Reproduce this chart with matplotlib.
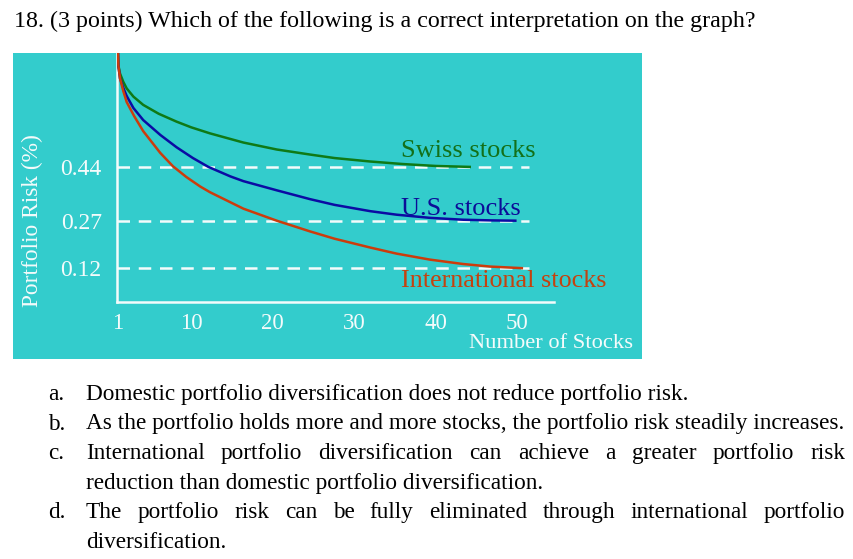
import matplotlib
matplotlib.use("Agg")
import matplotlib.pyplot as plt
from matplotlib.patches import Rectangle

# === dados ===
n_swiss = [1, 1.04, 1.25, 1.65, 2.07, 2.9, 4.1, 6, 8.2, 10, 12.3, 16.4, 20.5,
           24.6, 27.6, 32, 36, 40, 44.2]
risk_swiss = [0.80, 0.762, 0.735, 0.709, 0.688, 0.662, 0.636, 0.608, 0.583, 0.565,
              0.546, 0.517, 0.495, 0.479, 0.468, 0.457, 0.449, 0.443, 0.44]

n_us = [1, 1.05, 1.25, 1.65, 2.07, 2.9, 4.1, 6.2, 8.2, 10.2, 12.1, 14.8, 16.4,
        20.5, 24.6, 27.6, 32, 35.2, 39.3, 43.4, 46.7, 49.8]
risk_us = [0.80, 0.76, 0.72, 0.69, 0.664, 0.626, 0.588, 0.541, 0.502, 0.468, 0.44,
           0.41, 0.395, 0.366, 0.338, 0.32, 0.30, 0.289, 0.279, 0.273, 0.271, 0.27]

n_intl = [1, 1.05, 1.25, 1.65, 2.07, 3, 4.1, 6.2, 7.75, 9.4, 11.1, 12.3, 16.4,
          20.5, 24.6, 27.6, 32, 35.2, 39.3, 43.4, 46.7, 50.6]
risk_intl = [0.80, 0.76, 0.72, 0.68, 0.645, 0.60, 0.553, 0.484, 0.442, 0.408, 0.378,
             0.36, 0.308, 0.27, 0.236, 0.213, 0.185, 0.166, 0.147, 0.133, 0.125, 0.12]

risk_levels = [0.44, 0.27, 0.12]
level_labels = ["0.44", "0.27", "0.12"]
x_ticks = [1, 10, 20, 30, 40, 50]
series_labels = ["Swiss stocks", "U.S. stocks", "International stocks"]

question = "18. (3 points) Which of the following is a correct interpretation on the graph?"
option_lines = [
    "Domestic portfolio diversification does not reduce portfolio risk.",
    "As the portfolio holds more and more stocks, the portfolio risk steadily increases.",
    "International portfolio diversification can achieve a greater portfolio risk",
    "reduction than domestic portfolio diversification.",
    "The portfolio risk can be fully eliminated through international portfolio",
    "diversification.",
]

# === estilo ===
W, H = 854, 559
teal = "#33cccc"
branco = "#f4fbfb"
cores = ["#0f7a16", "#0b0ba3", "#cc3c0c"]
cores_txt = ["#137019", "#0c0c98", "#c4420f"]
plt.rcParams["font.family"] = "Liberation Serif"


def fx(px):
    return px / W


def fy(py):
    return 1 - py / H


fig = plt.figure(figsize=(W / 100, H / 100), dpi=100)
fig.patch.set_facecolor("white")
renderer = fig.canvas.get_renderer()

# painel turquesa
fig.patches.append(Rectangle((fx(13), fy(359)), fx(642 - 13), (359 - 53) / H,
                             transform=fig.transFigure, facecolor=teal,
                             edgecolor="none", zorder=0))

ax = fig.add_axes([fx(117), fy(302), fx(554 - 117), (302 - 53) / H])
ax.set_zorder(2)
ax.patch.set_alpha(0)
ax.set_xlim(0.88, 54.55)
ax.set_ylim(0.013, 0.80)

for lvl in risk_levels:
    ax.plot([0.88, 51.5], [lvl, lvl], color=branco, lw=1.8,
            dashes=(5, 3.5), zorder=1, solid_capstyle="butt")

ax.plot(n_swiss, risk_swiss, color=cores[0], lw=1.8, zorder=3)
ax.plot(n_us, risk_us, color=cores[1], lw=1.8, zorder=3)
ax.plot(n_intl, risk_intl, color=cores[2], lw=1.8, zorder=3)

ax.text(35.7, 0.49, series_labels[0], color=cores_txt[0], fontsize=19, va="center")
ax.text(35.7, 0.308, series_labels[1], color=cores_txt[1], fontsize=19, va="center")
ax.text(35.7, 0.078, series_labels[2], color=cores_txt[2], fontsize=18.8, va="center")

for s in ["top", "right"]:
    ax.spines[s].set_visible(False)
for s in ["left", "bottom"]:
    ax.spines[s].set_color(branco)
    ax.spines[s].set_linewidth(1.8)

ax.set_xticks(x_ticks)
ax.set_xticklabels([str(t) for t in x_ticks])
ax.set_yticks(risk_levels)
ax.set_yticklabels(level_labels)
ax.tick_params(length=0, colors=branco, labelsize=17)
ax.tick_params(axis="y", pad=11)
ax.tick_params(axis="x", pad=8, labelsize=16.5)

fig.text(fx(32), fy(221), "Portfolio Risk (%)", rotation=90, color=branco,
         fontsize=16.8, ha="center", va="center")
fig.text(fx(551), fy(344), "Number of Stocks", color=branco, fontsize=16.2,
         ha="center", va="center")


# === texto da questão ===
def ajustar(txt, largura, base=15):
    t = fig.text(0, 0, txt, fontsize=base)
    w = t.get_window_extent(renderer).width
    t.remove()
    return base * largura / w


def justificado(txt, x0, x1, y, size):
    palavras = txt.split()
    arts = [fig.text(0, fy(y), p, fontsize=size, va="baseline") for p in palavras]
    larg = [a.get_window_extent(renderer).width for a in arts]
    gap = (x1 - x0 - sum(larg)) / (len(palavras) - 1)
    x = x0
    for a, w in zip(arts, larg):
        a.set_x(fx(x))
        x += w + gap


tam_titulo = ajustar(question, 758 - 14)
fig.text(fx(14), fy(27.5), question, fontsize=tam_titulo, va="baseline")

tam = ajustar(option_lines[1], 848 - 86)
bases = [400, 429.5, 459, 488.5, 518, 547.5]
marca_linha = {0: "a.", 1: "b.", 2: "c.", 4: "d."}
for i, (linha, yb) in enumerate(zip(option_lines, bases)):
    if i in marca_linha:
        fig.text(fx(48), fy(yb), marca_linha[i], fontsize=tam, va="baseline")
    if i in (2, 4):
        justificado(linha, 86, 845, yb, tam)
    else:
        fig.text(fx(86), fy(yb), linha, fontsize=tam, va="baseline")

fig.savefig("out.png", dpi=100)
